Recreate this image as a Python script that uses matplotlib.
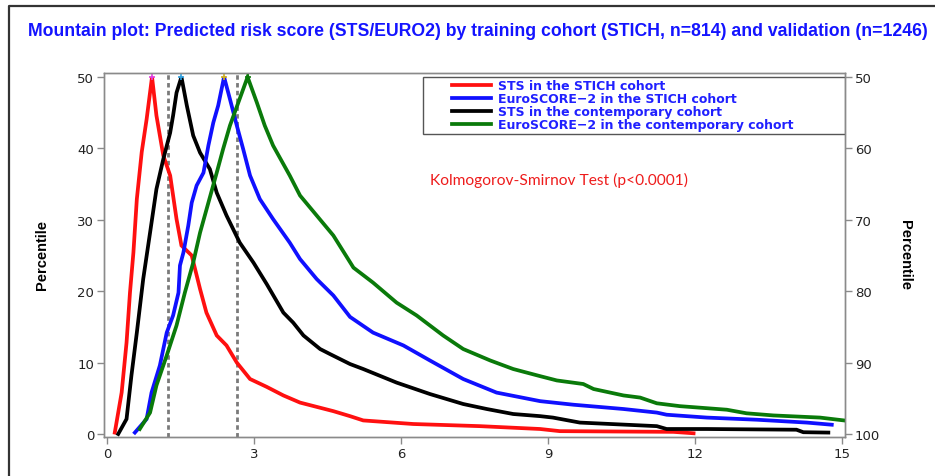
import matplotlib
matplotlib.use("Agg")
import matplotlib.pyplot as plt
from matplotlib.lines import Line2D
from matplotlib.patches import Rectangle

# Mountain plot curves (folded cumulative distribution)
red_x = [0.16, 0.30, 0.40, 0.47, 0.54, 0.61, 0.71, 0.81, 0.92, 1.01, 1.15, 1.29, 1.42, 1.52,
         1.73, 1.90, 2.03, 2.24, 2.44, 2.65, 2.92, 3.26, 3.60, 3.94, 4.62, 4.96, 5.23, 6.25,
         7.61, 8.84, 9.24, 11.56, 11.97]
red_y = [0.2, 5.8, 12.8, 19.8, 25.4, 32.9, 39.5, 44.1, 50.0, 44.6, 39.0, 36.2, 30.1, 26.4,
         25.0, 20.3, 17.0, 13.8, 12.4, 10.0, 7.7, 6.6, 5.4, 4.4, 3.2, 2.5, 1.9, 1.4,
         1.1, 0.7, 0.4, 0.3, 0.1]

blue_x = [0.57, 0.81, 0.91, 1.08, 1.22, 1.35, 1.46, 1.49, 1.56, 1.66, 1.73, 1.83, 1.97, 2.07,
          2.17, 2.27, 2.39, 2.51, 2.65, 2.78, 2.92, 3.12, 3.39, 3.73, 3.94, 4.28, 4.62, 4.96,
          5.43, 6.05, 6.59, 7.27, 7.95, 8.84, 9.52, 10.54, 11.22, 11.42, 12.24, 13.26, 14.28,
          14.79]
blue_y = [0.2, 2.1, 5.8, 9.6, 14.2, 16.6, 19.8, 23.6, 25.4, 29.2, 32.4, 34.8, 36.6, 40.4,
          43.6, 46.0, 50.0, 46.9, 43.2, 39.9, 36.2, 32.9, 30.1, 26.8, 24.5, 21.7, 19.4, 16.4,
          14.2, 12.4, 10.3, 7.7, 5.8, 4.6, 4.1, 3.5, 3.0, 2.7, 2.3, 2.0, 1.6,
          1.3]

black_x = [0.23, 0.40, 0.50, 0.61, 0.74, 0.88, 1.01, 1.15, 1.29, 1.35, 1.42, 1.52, 1.63, 1.76,
           1.90, 2.10, 2.24, 2.44, 2.71, 2.99, 3.26, 3.60, 3.80, 4.01, 4.35, 4.55, 4.96, 5.23,
           5.91, 6.59, 7.27, 7.75, 8.29, 8.84, 9.10, 9.65, 11.22, 11.42, 12.24, 14.07, 14.21,
           14.72]
black_y = [0.0, 2.1, 8.2, 14.2, 21.7, 28.2, 34.3, 38.5, 42.2, 44.6, 47.8, 50.0, 46.0, 41.8,
           39.4, 37.1, 33.8, 30.6, 26.8, 24.0, 21.0, 17.0, 15.6, 13.8, 11.9, 11.2, 9.8, 9.1,
           7.2, 5.6, 4.2, 3.5, 2.8, 2.5, 2.3, 1.6, 1.1, 0.7, 0.7, 0.6, 0.25,
           0.2]

green_x = [0.67, 0.88, 1.01, 1.22, 1.42, 1.59, 1.76, 1.90, 2.07, 2.24, 2.37, 2.51, 2.68, 2.87,
           3.06, 3.22, 3.39, 3.73, 3.94, 4.28, 4.62, 5.03, 5.43, 5.91, 6.32, 6.86, 7.27, 7.82,
           8.29, 8.84, 9.18, 9.72, 9.93, 10.54, 10.88, 11.22, 11.69, 12.65, 13.05, 13.60, 14.55,
           15.04]
green_y = [0.7, 3.0, 6.8, 11.0, 15.2, 19.8, 24.0, 28.2, 32.4, 36.6, 39.9, 43.2, 46.4, 50.0,
           46.4, 43.2, 40.4, 36.2, 33.4, 30.6, 27.8, 23.3, 21.2, 18.4, 16.6, 13.8, 11.9, 10.3,
           9.1, 8.1, 7.5, 7.0, 6.3, 5.4, 5.1, 4.3, 3.9, 3.4, 2.9, 2.6, 2.3,
           1.9]

series_labels = ["STS in the STICH cohort", "EuroSCORE\u22122 in the STICH cohort",
                 "STS in the contemporary cohort", "EuroSCORE\u22122 in the contemporary cohort"]
series_colors = ["#ff1010", "#1010ff", "#000000", "#0a7a0a"]
peak_colors = ["#e040e0", "#d0b020", "#30a0e0", "#0a7a0a"]

ref_lines = [1.24, 2.65]
x_ticks = [0, 3, 6, 9, 12, 15]
y_ticks = [0, 10, 20, 30, 40, 50]
right_ticks = [50, 60, 70, 80, 90, 100]

title = ("Mountain plot: Predicted risk score (STS/EURO2) by training cohort "
         "(STICH, n=814) and validation (n=1246)")
ks_text = "Kolmogorov-Smirnov Test (p<0.0001)"

W, H = 935, 477
fig = plt.figure(figsize=(W / 100, H / 100), dpi=100)
ax = fig.add_axes([104 / W, 1 - 438 / H, 741 / W, 364 / H])

for xs in ref_lines:
    ax.axvline(xs, color="#7a7a7a", lw=2.0, ls=(0, (1.6, 1.2)), zorder=1)

curves = [(red_x, red_y), (blue_x, blue_y), (black_x, black_y), (green_x, green_y)]
for i in [0, 2, 1, 3]:
    xs, ys = curves[i]
    ax.plot(xs, ys, color=series_colors[i], lw=2.7, label=series_labels[i],
            solid_joinstyle="miter", zorder=3)
    k = ys.index(max(ys))
    ax.plot([xs[k]], [ys[k]], marker="+", ms=4, mew=1.2, color=peak_colors[i], zorder=4)

ax.set_xlim(-0.06, 15.06)
ax.set_ylim(-0.42, 50.56)
ax.set_xticks(x_ticks)
ax.set_yticks(y_ticks)

ax2 = ax.twinx()
ax2.set_ylim(100.42, 49.44)
ax2.set_yticks(right_ticks)

for a in (ax, ax2):
    for s in a.spines.values():
        s.set_color("#8a8a8a")
        s.set_linewidth(1.0)
    a.tick_params(direction="out", length=5, width=1, color="#8a8a8a",
                  labelsize=9.5, labelcolor="#222222", pad=2)

ax.text(6.59, 35.6, ks_text, color="#ee1c1c", fontsize=11.2, family=["Lato", "DejaVu Sans"],
        ha="left", va="center")

# legend: frame drawn separately so its size can follow the original box
def ax_frac(px, py):
    return (px - 104) / 741, (438 - py) / 364

x0, y0 = ax_frac(423, 135)
x1, y1 = ax_frac(845, 78)
ax.add_patch(Rectangle((x0, y0), x1 - x0, y1 - y0, transform=ax.transAxes,
                       facecolor="white", edgecolor="#555555", lw=1.0, zorder=5))
handles = [Line2D([], [], color=c, lw=2.7) for c in series_colors]
lx, ly = ax_frac(452, 80)
leg = ax.legend(handles, series_labels, loc="upper left", bbox_to_anchor=(lx, ly),
                frameon=False, prop={"family": "DejaVu Sans", "size": 9, "weight": "bold"},
                labelcolor="#2020ff", handlelength=3.1, handletextpad=0.55,
                labelspacing=0.0, borderpad=0, borderaxespad=0)
leg.set_zorder(6)

t = fig.text(478 / W, 1 - 31 / H, title, color="#1414ff", fontsize=12,
             fontweight="bold", family=["Liberation Sans", "DejaVu Sans"],
             ha="center", va="center")
fig.canvas.draw()
bb = t.get_window_extent(fig.canvas.get_renderer())
t.set_fontsize(12 * 893 / bb.width)

for xpos, rot in [(42, 90), (905, 270)]:
    fig.text(xpos / W, 1 - 255 / H, "Percentile", rotation=rot, fontsize=10.5,
             fontweight="bold", family=["Liberation Sans", "DejaVu Sans"],
             ha="center", va="center")

# page frame on the left and top
fig.add_artist(Line2D([9 / W, 9 / W, 1.0], [0.0, 1 - 7 / H, 1 - 7 / H],
                      transform=fig.transFigure, color="#333333", lw=1.6))

fig.savefig("out.png", dpi=100)
